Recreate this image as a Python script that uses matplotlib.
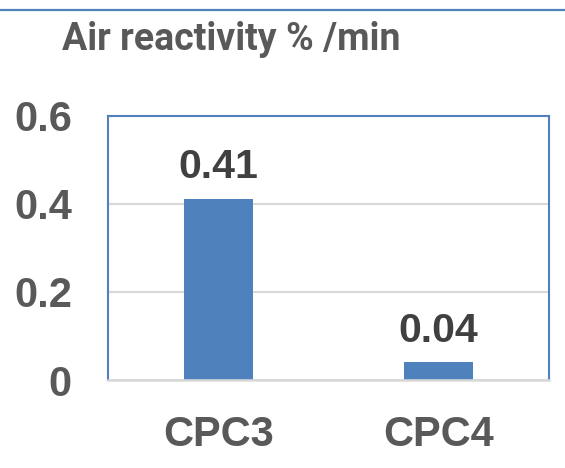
import matplotlib
matplotlib.use("Agg")
import matplotlib.pyplot as plt
from matplotlib.lines import Line2D

categories = ["CPC3", "CPC4"]
values = [0.41, 0.04]
value_labels = ["0.41", "0.04"]
yticks = [0, 0.2, 0.4, 0.6]
ytick_labels = ["0", "0.2", "0.4", "0.6"]
title = "Air reactivity % /min"

BLUE = "#4F81BD"
GRAY_TXT = "#595959"
DARK_TXT = "#404040"
GRID = "#D9D9D9"

fig = plt.figure(figsize=(5.65, 4.68), dpi=100)
ax = fig.add_axes([108/565, 1 - 380/468, (549-108)/565, (380-115.5)/468])

x = list(range(len(categories)))
ax.bar(x, values, width=0.313, color=BLUE, zorder=3)
ax.set_xlim(-0.5, 1.5)
ax.set_ylim(0, 0.6)
ax.set_yticks(yticks)
ax.set_yticklabels(ytick_labels)
ax.set_xticks(x)
ax.set_xticklabels(categories)

for lab in ax.get_yticklabels():
    lab.set_fontfamily("Liberation Sans")
    lab.set_fontweight("bold")
    lab.set_fontsize(30)
    lab.set_color(GRAY_TXT)
for lab in ax.get_xticklabels():
    lab.set_fontfamily("Liberation Sans")
    lab.set_fontweight("bold")
    lab.set_fontsize(30)
    lab.set_color(GRAY_TXT)

ax.tick_params(axis="y", length=0, pad=26)
ax.tick_params(axis="x", length=0, pad=25)

ax.grid(axis="y", color=GRID, linewidth=1.5, zorder=0)
ax.set_axisbelow(True)

for s in ["top", "left", "right"]:
    ax.spines[s].set_color(BLUE)
    ax.spines[s].set_linewidth(1.5)
ax.spines["bottom"].set_color(GRID)
ax.spines["bottom"].set_linewidth(1.8)
ax.spines["bottom"].set_zorder(4)

for xi, v, t in zip(x, values, value_labels):
    ax.annotate(t, (xi, v), xytext=(0, 15), textcoords="offset points",
                ha="center", va="baseline", fontsize=29.5, fontweight="bold",
                color=DARK_TXT, family="Liberation Sans")

fig.text(62/565, 1 - 50/468, title, fontsize=27, fontfamily=["Roboto", "DejaVu Sans"],
         fontweight="semibold", color=GRAY_TXT, ha="left", va="baseline")

fig.add_artist(Line2D([0, 1], [1 - 10/468, 1 - 10/468], transform=fig.transFigure,
                      color=BLUE, linewidth=1.6))

fig.savefig("out.png", dpi=100)
